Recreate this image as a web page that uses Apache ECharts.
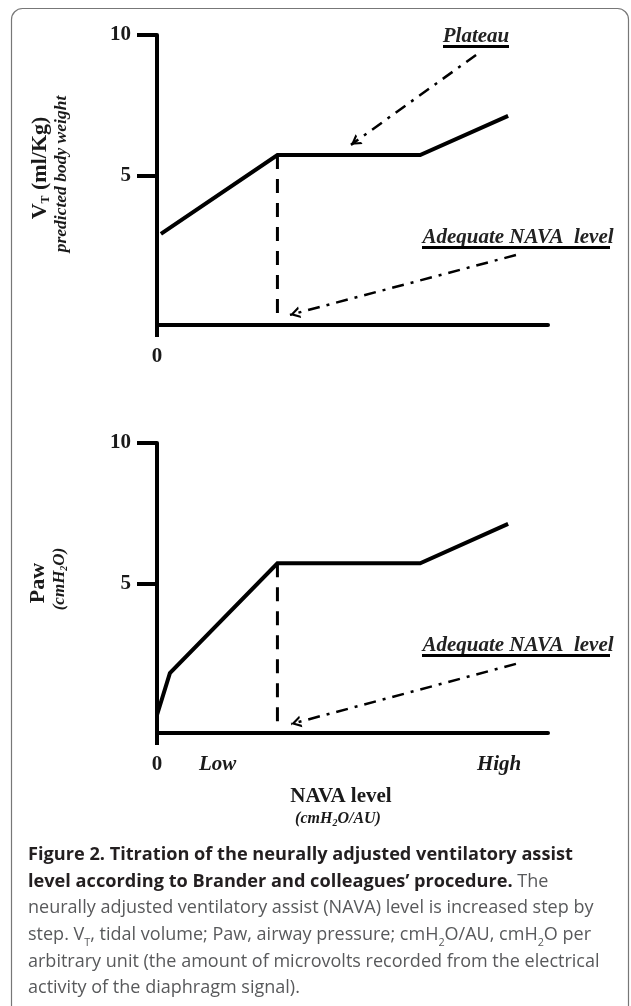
<!DOCTYPE html>
<html>
<head>
<meta charset="utf-8">
<script src="https://cdn.jsdelivr.net/npm/echarts@6/dist/echarts.min.js"></script>
<style>
html,body{margin:0;padding:0;background:#fff;}
#c{width:631px;height:1006px;}
</style>
</head>
<body>
<div id="c"></div>
<script>
// ---------- data ----------
const vtX = [0.1, 3.08, 6.73, 8.98];
const vtY = [2.92, 5.73, 5.73, 7.12];
const pawX = [0.0, 0.33, 3.08, 6.73, 8.98];
const pawY = [0.32, 1.81, 5.72, 5.72, 7.12];
const adequateX = 3.08;
const vtDashEnd = [5.73, -0.07];
const pawDashEnd = [5.72, -0.04];
const plateauArrowFrom = [8.16, 9.29];
const plateauArrowTo = [4.96, 6.09];
const vtAdequateFrom = [9.18, 2.17];
const vtAdequateTo = [3.40, 0.04];
const pawAdequateFrom = [9.18, 2.14];
const pawAdequateTo = [3.43, 0.0];
const yTickValues = [5, 10];
const topXLabelValues = [0];
const topXLabels = ['0'];
const botXLabelValues = [0, 1.55, 8.75];
const botXLabels = ['0', 'Low', 'High'];

// ---------- helpers ----------
const SERIF = '"Liberation Serif", "Times New Roman", serif';
const SANS = '"Open Sans", "Noto Sans", sans-serif';
const INK = '#1a1a1a';
function zip(xs, ys){ return xs.map((x,i)=>[x, ys[i]]); }
function fitSize(text, weight, family, target){
  const c = document.createElement('canvas').getContext('2d');
  c.font = weight + ' 100px ' + family;
  return 100 * target / c.measureText(text).width;
}
const capLine1 = 'Figure 2. Titration of the neurally adjusted ventilatory assist';
const capLine3 = 'neurally adjusted ventilatory assist (NAVA) level is increased step by';
const boldSize = fitSize(capLine1, 'bold', SANS, 545);
const regSize = fitSize(capLine3, 'normal', SANS, 566);
const LH = 26.6;

const chevron = 'path://M6,0 L6,0 M6,10 L12,20 L9.5,20 L6,14.2 L2.5,20 L0,20 Z';

function xAxisDef(gridIndex, labelValues, labels){
  return {
    type:'value', gridIndex, min:0, max:10,
    splitLine:{show:false},
    axisLine:{onZero:false, lineStyle:{color:'#000', width:4}},
    axisTick:{show:true, customValues:[0], length:12, inside:false, lineStyle:{color:'#000', width:4}},
    axisLabel:{
      customValues: labelValues, margin:21,
      formatter: v => { const i = labelValues.indexOf(v); const t = labels[i]; return t === '0' ? t : '{i|' + t + '}'; },
      fontFamily:SERIF, fontWeight:'bold', fontSize:21, color:INK,
      rich:{ i:{fontFamily:SERIF, fontWeight:'bold', fontStyle:'italic', fontSize:21, color:INK} }
    }
  };
}
function yAxisDef(gridIndex){
  return {
    type:'value', gridIndex, min:-0.32, max:10,
    splitLine:{show:false},
    axisLine:{onZero:false, lineStyle:{color:'#000', width:4}},
    axisTick:{show:true, customValues:yTickValues, length:20, inside:false, lineStyle:{color:'#000', width:4}},
    axisLabel:{customValues:yTickValues, margin:26, fontFamily:SERIF, fontWeight:'bold', fontSize:21, color:INK}
  };
}
function arrowMarkLine(pairs){
  return {
    silent:true, animation:false,
    symbol:['none', chevron], symbolSize:[12,20],
    lineStyle:{type:[12,7,3,7], width:2.5, color:'#000'},
    label:{show:false},
    data: pairs.map(p => [{coord:p[0]}, {coord:p[1]}])
  };
}

const option = {
  animation:false,
  backgroundColor:'#fff',
  grid:[
    {left:157, top:35, width:391, height:290},
    {left:157, top:443, width:391, height:290}
  ],
  xAxis:[ xAxisDef(0, topXLabelValues, topXLabels), xAxisDef(1, botXLabelValues, botXLabels) ],
  yAxis:[ yAxisDef(0), yAxisDef(1) ],
  series:[
    {type:'line', xAxisIndex:0, yAxisIndex:0, data:zip(vtX, vtY), symbol:'none',
     lineStyle:{color:'#000', width:4, cap:'butt', join:'miter'}},
    {type:'line', xAxisIndex:0, yAxisIndex:0, data:vtDashEnd.map(y=>[adequateX,y]), symbol:'none',
     lineStyle:{color:'#000', width:3, type:[14,10]},
     markLine: arrowMarkLine([[plateauArrowFrom, plateauArrowTo],[vtAdequateFrom, vtAdequateTo]])},
    {type:'line', xAxisIndex:1, yAxisIndex:1, data:zip(pawX, pawY), symbol:'none',
     lineStyle:{color:'#000', width:4, cap:'butt', join:'miter'}},
    {type:'line', xAxisIndex:1, yAxisIndex:1, data:pawDashEnd.map(y=>[adequateX,y]), symbol:'none',
     lineStyle:{color:'#000', width:3, type:[14,10]},
     markLine: arrowMarkLine([[pawAdequateFrom, pawAdequateTo]])}
  ],
  graphic:[
    {type:'rect', shape:{x:11.5, y:8.5, width:617, height:1010, r:11}, style:{fill:'none', stroke:'#777', lineWidth:1.2}, silent:true},
    // y axis titles (rotated)
    {type:'text', x:40, y:168, rotation:Math.PI/2, style:{
      text:'{b|V}{s|T}{b| (ml/Kg)}', align:'center', verticalAlign:'middle',
      rich:{ b:{fontFamily:SERIF, fontWeight:'bold', fontSize:22, lineHeight:24, fill:INK},
             s:{fontFamily:SERIF, fontWeight:'bold', fontSize:12, lineHeight:14, verticalAlign:'bottom', fill:INK} } }},
    {type:'text', x:61, y:174, rotation:Math.PI/2, style:{
      text:'predicted body weight', align:'center', verticalAlign:'middle',
      font:'italic bold 17.5px ' + SERIF, fill:INK }},
    {type:'text', x:38, y:583, rotation:Math.PI/2, style:{
      text:'Paw', align:'center', verticalAlign:'middle',
      font:'bold 22px ' + SERIF, fill:INK }},
    {type:'text', x:60, y:579, rotation:Math.PI/2, style:{
      text:'{i|(cmH}{s|2}{i|O)}', align:'center', verticalAlign:'middle',
      rich:{ i:{fontFamily:SERIF, fontWeight:'bold', fontStyle:'italic', fontSize:17, lineHeight:18, fill:INK},
             s:{fontFamily:SERIF, fontWeight:'bold', fontStyle:'italic', fontSize:10, lineHeight:10, verticalAlign:'bottom', fill:INK} } }},
    // x axis title
    {type:'text', x:341, y:797, style:{text:'NAVA level', align:'center', verticalAlign:'middle', font:'bold 21px ' + SERIF, fill:INK}},
    {type:'text', x:338, y:819, style:{
      text:'{i|(cmH}{s|2}{i|O/AU)}', align:'center', verticalAlign:'middle',
      rich:{ i:{fontFamily:SERIF, fontWeight:'bold', fontStyle:'italic', fontSize:16, lineHeight:18, fill:INK},
             s:{fontFamily:SERIF, fontWeight:'bold', fontStyle:'italic', fontSize:10, lineHeight:10, verticalAlign:'bottom', fill:INK} } }},
    // annotations
    {type:'text', x:476, y:37, style:{text:'Plateau', align:'center', verticalAlign:'middle', font:'italic bold 21px ' + SERIF, fill:'#222'}},
    {type:'rect', shape:{x:443, y:45, width:66, height:3}, style:{fill:'#000'}},
    {type:'text', x:518, y:238, style:{text:'Adequate NAVA  level', align:'center', verticalAlign:'middle', font:'italic bold 21px ' + SERIF, fill:'#222'}},
    {type:'rect', shape:{x:422, y:246, width:188, height:3}, style:{fill:'#000'}},
    {type:'text', x:518, y:646, style:{text:'Adequate NAVA  level', align:'center', verticalAlign:'middle', font:'italic bold 21px ' + SERIF, fill:'#222'}},
    {type:'rect', shape:{x:422, y:654, width:188, height:3}, style:{fill:'#000'}},
    // caption
    {type:'text', x:28, y:855 - LH/2, style:{
      align:'left', verticalAlign:'top',
      text:'{b|' + capLine1 + '}\n' +
           '{b|level according to Brander and colleagues\u2019 procedure.}{r| The}\n' +
           '{r|' + capLine3 + '}\n' +
           '{r|step. V}{s|T}{r|, tidal volume; Paw, airway pressure; cmH}{s|2}{r|O/AU, cmH}{s|2}{r|O per}\n' +
           '{r|arbitrary unit (the amount of microvolts recorded from the electrical}\n' +
           '{r|activity of the diaphragm signal).}',
      rich:{
        b:{fontFamily:SANS, fontWeight:'bold', fontSize:boldSize, lineHeight:LH, fill:'#231f20'},
        r:{fontFamily:SANS, fontWeight:'normal', fontSize:regSize, lineHeight:LH, fill:'#58595b'},
        s:{fontFamily:SANS, fontWeight:'normal', fontSize:regSize*0.6, lineHeight:14, verticalAlign:'bottom', fill:'#58595b'}
      }
    }}
  ]
};
const chart = echarts.init(document.getElementById('c'), null, {renderer:'canvas'});
chart.setOption(option);
</script>
</body>
</html>
